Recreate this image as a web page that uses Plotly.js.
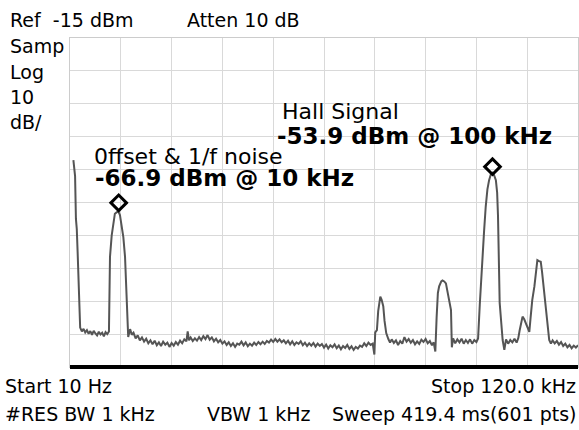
<!DOCTYPE html>
<html>
<head>
<meta charset="utf-8">
<script src="https://cdn.plot.ly/plotly-3.0.1.min.js"></script>
<style>html,body{margin:0;padding:0;background:#fff;}#chart{width:579px;height:430px;}</style>
</head>
<body>
<div id="chart"></div>
<script>
// Sweep data (frequency in kHz, level in dBm)
var freqKHz = [
  0.8, 1.0, 1.2, 1.4, 1.6, 1.8, 2.0, 2.2, 2.4,
  2.8, 3.2, 3.6, 4.0, 4.4, 4.8, 5.2, 5.6, 6.0, 6.4, 6.8, 7.2, 7.6, 8.0, 8.4, 8.8, 9.2,
  9.45, 9.85, 10.2, 10.6, 11.0, 11.4, 11.8, 12.2, 12.6, 13.0, 13.4, 13.75,
  14.2, 14.6, 15.0, 15.5, 16.0, 16.5, 17.0, 17.5, 18.0, 18.5, 19.0, 19.5, 20.0, 20.5, 21.0, 21.5,
  22.0, 22.5, 23.0, 23.5, 24.0, 24.5, 25.0, 25.5, 26.0, 26.5, 27.0, 27.5, 27.8, 28.1, 28.5, 29.0,
  29.5, 30.0, 30.5, 31.0, 31.5, 32.0, 32.5, 33.0, 33.5, 34.0, 34.5, 35.0, 35.5, 36.0, 36.5, 37.0,
  37.5, 38.0, 38.5, 39.0, 39.5, 40.0, 40.5, 41.0, 41.5, 42.0, 42.5, 43.0, 43.5, 44.0, 44.5, 45.0,
  45.5, 46.0, 46.5, 47.0, 47.5, 48.0, 48.5, 49.0, 49.5, 50.0, 50.5, 51.0, 51.5, 52.0, 52.5, 53.0,
  53.5, 54.0, 54.5, 55.0, 55.5, 56.0, 56.5, 57.0, 57.5, 58.0, 58.5, 59.0, 59.5, 60.0, 60.5, 61.0,
  61.5, 62.0, 62.5, 63.0, 63.5, 64.0, 64.5, 65.0, 65.5, 66.0, 66.5, 67.0, 67.5, 68.0, 68.5, 69.0,
  69.5, 70.0, 70.5, 71.0, 71.5, 71.9,
  72.1, 72.5, 72.8, 73.3, 73.6, 74.0, 74.3, 74.7,
  75.2, 75.6, 76.0, 76.5, 77.0, 77.5, 78.0, 78.5, 79.0, 79.5, 80.0, 80.5, 81.0, 81.5, 82.0, 82.5,
  83.0, 83.5, 84.0, 84.5, 85.0, 85.5, 85.9, 86.3,
  86.6, 86.9, 87.2, 87.7, 88.0, 88.4, 88.8, 89.2, 89.7, 90.0,
  90.2, 90.5, 91.0, 91.5, 92.0, 92.5, 93.0, 93.5, 94.0, 94.5, 95.0, 95.5, 96.0, 96.4,
  96.8, 97.1, 97.4, 97.8, 98.2, 98.6, 99.0, 99.4, 99.8, 100.2, 100.6, 100.9, 101.1, 101.3, 101.5, 101.9, 102.2,
  102.6, 103.0, 103.5, 104.0, 104.5, 105.0, 105.5, 105.9,
  106.2, 106.9, 107.3, 107.7, 108.1, 108.5, 108.8, 109.2, 109.7, 110.0, 110.4, 110.8, 111.2, 111.5,
  111.8, 112.1, 112.4, 112.8,
  113.2, 113.6, 114.0, 114.5, 115.0, 115.5, 116.0, 116.5, 117.0, 117.5, 118.0, 118.5, 119.0, 119.5, 120.0
];
var levelDbm = [
  -52.1, -55.0, -57.0, -70.0, -73.0, -80.0, -88.0, -95.0, -103.0,
  -104.2, -103.4, -104.5, -103.8, -104.9, -104.1, -105.2, -104.0, -104.8, -105.4, -104.3, -105.1, -104.6, -105.7, -104.4, -105.0, -104.2,
  -81.5, -75.0, -72.0, -68.4, -68.0, -67.7, -68.8, -72.0, -75.5, -81.5, -95.5, -105.9,
  -103.5, -105.2, -104.6, -106.3, -105.4, -106.9, -106.0, -107.3, -106.4, -107.8, -106.9, -108.1, -107.0, -108.4, -107.5, -108.6,
  -107.3, -108.2, -107.6, -108.9, -107.7, -108.5, -107.4, -108.2, -107.0, -107.8, -106.6, -107.2, -104.2, -106.9, -106.0, -107.1,
  -106.3, -107.0, -105.9, -106.8, -105.6, -106.5, -105.3, -106.7, -106.0, -107.2, -106.4, -107.5, -106.8, -107.9, -107.2, -108.3,
  -107.5, -108.6, -107.8, -108.9, -107.9, -108.2, -107.3, -108.4, -107.5, -108.7, -107.9, -108.5, -107.6, -108.3, -107.4, -108.1,
  -107.3, -108.0, -107.1, -107.6, -106.7, -107.4, -106.5, -107.3, -106.6, -107.5, -106.9, -107.8, -107.0, -108.1, -107.2, -108.3,
  -107.5, -108.0, -107.2, -108.4, -107.6, -108.6, -107.8, -108.5, -107.7, -108.8, -107.9, -108.6, -108.0, -109.1, -108.2, -109.4,
  -108.4, -109.0, -108.1, -109.3, -108.5, -109.6, -108.6, -109.2, -108.3, -109.5, -108.7, -109.8, -108.9, -109.4, -108.5, -108.9,
  -107.8, -108.6, -107.6, -108.3, -107.9, -111.2,
  -104.5, -103.8, -98.0, -93.6, -94.5, -96.5, -101.0, -104.7,
  -106.5, -107.6, -106.6, -107.7, -106.9, -108.3, -107.1, -107.9, -105.9, -107.3, -106.5, -107.6, -106.8, -108.1, -107.2, -108.0,
  -106.7, -107.4, -106.5, -107.8, -107.1, -108.4, -107.5, -110.3,
  -100.0, -92.5, -90.5, -89.0, -88.7, -89.0, -89.6, -92.0, -95.5, -97.7,
  -109.0, -106.3, -107.8, -106.6, -107.5, -106.4, -107.9, -106.8, -107.7, -106.6, -107.9, -106.8, -107.4, -106.3,
  -96.0, -88.0, -81.5, -74.0, -66.3, -61.0, -58.2, -56.5, -56.0, -56.8, -58.2, -62.0, -69.0, -84.0, -95.5, -102.0, -106.8,
  -109.8, -106.6, -107.9, -106.8, -107.5, -106.4, -107.6, -106.2,
  -104.0, -99.7, -100.5, -101.7, -103.0, -104.3, -100.0, -94.6, -90.5, -87.6, -82.5, -82.8, -83.0, -86.0,
  -89.5, -93.0, -96.7, -101.6,
  -106.8, -107.9, -106.9, -107.8, -107.1, -108.2, -107.4, -108.6, -107.9, -109.0, -108.3, -109.3, -108.5, -109.1, -108.4
];
// Marker diamonds (as drawn) and their readouts
var markerFreqKHz = [11.5, 99.8];
var markerLevelDbm = [-65.1, -54.1];
var markerNames = ["0ffset & 1/f noise", "Hall Signal"];
var markerReadouts = ["-66.9 dBm @ 10 kHz", "-53.9 dBm @ 100 kHz"];
// Instrument settings text
var headerTexts = ["Ref\u00a0\u00a0-15 dBm", "Atten 10 dB"];
var sideTexts = ["Samp", "Log", "10", "dB/"];
var footerLeft = ["Start 10 Hz", "#RES BW 1 kHz"];
var footerMid = ["VBW 1 kHz"];
var footerRight = ["Stop 120.0 kHz", "Sweep 419.4 ms(601 pts)"];

// layout helpers (pixels -> paper)
var L = 70, R = 578, T = 38, B = 367;
function px(x) { return (x - L) / (R - L); }
function py(y) { return (B - y) / (B - T); }
var FONT = "DejaVu Sans, Verdana, sans-serif";
function ann(text, x, y, xanchor, size, bold) {
  return {
    text: bold ? "<b>" + text + "</b>" : text,
    xref: "paper", yref: "paper", x: px(x), y: py(y),
    xanchor: xanchor, yanchor: "middle", showarrow: false,
    font: {family: FONT, size: size, color: "#000"}
  };
}
var annotations = [
  ann(headerTexts[0], 8, 20, "left", 19),
  ann(headerTexts[1], 185, 20, "left", 19),
  ann(sideTexts[0], 8, 46, "left", 19),
  ann(sideTexts[1], 8, 72, "left", 19),
  ann(sideTexts[2], 8, 97, "left", 19),
  ann(sideTexts[3], 8, 122, "left", 19),
  ann(markerNames[0], 92, 156, "left", 22),
  ann(markerReadouts[0], 93, 178, "left", 23, true),
  ann(markerNames[1], 280, 111, "left", 22),
  ann(markerReadouts[1], 275, 136, "left", 23, true),
  ann(footerLeft[0], 3, 386, "left", 19),
  ann(footerLeft[1], 3, 414, "left", 19),
  ann(footerMid[0], 205, 414, "left", 19),
  ann(footerRight[0], 578, 386, "right", 19),
  ann(footerRight[1], 578, 414, "right", 19)
];

var traces = [
  {
    x: freqKHz, y: levelDbm, type: "scatter", mode: "lines",
    line: {color: "#555555", width: 2}, hoverinfo: "skip"
  },
  {
    x: markerFreqKHz, y: markerLevelDbm, type: "scatter", mode: "markers",
    marker: {symbol: "diamond-open", size: 12, color: "#000", line: {color: "#000", width: 3}},
    hoverinfo: "skip"
  }
];

var layout = {
  width: 579, height: 430,
  margin: {l: L, r: 579 - R, t: T, b: 430 - B, pad: 0},
  paper_bgcolor: "#fff", plot_bgcolor: "#fff",
  showlegend: false,
  xaxis: {
    range: [0, 120], dtick: 12, tick0: 0, showticklabels: false, ticks: "",
    showgrid: true, gridcolor: "#d9d9d9", gridwidth: 1, zeroline: false,
    showline: true, linecolor: "#cccccc", linewidth: 1, mirror: true, fixedrange: true
  },
  yaxis: {
    range: [-115, -15], dtick: 10, tick0: -115, showticklabels: false, ticks: "",
    showgrid: true, gridcolor: "#d9d9d9", gridwidth: 1, zeroline: false,
    showline: true, linecolor: "#cccccc", linewidth: 1, mirror: true, fixedrange: true
  },
  shapes: [
    {type: "line", xref: "paper", yref: "paper", x0: 0, x1: 1, y0: 0, y1: 0,
     line: {color: "#000", width: 4}}
  ],
  annotations: annotations
};

Plotly.newPlot("chart", traces, layout, {staticPlot: true, displayModeBar: false});
</script>
</body>
</html>
